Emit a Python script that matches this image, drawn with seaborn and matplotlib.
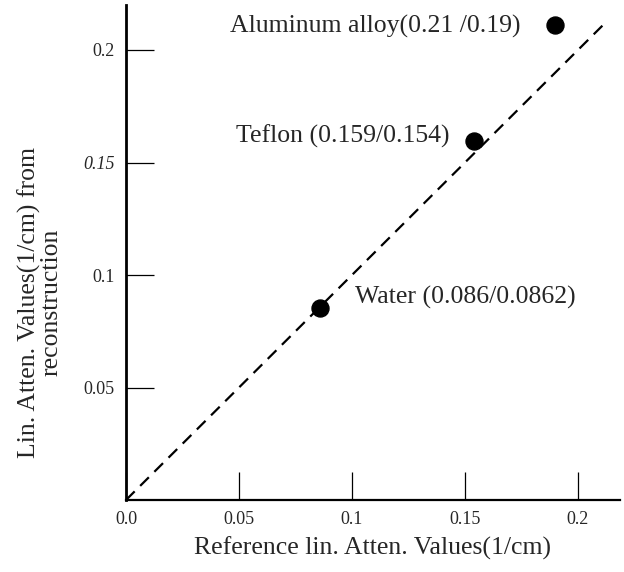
import numpy as np
import pandas as pd
import matplotlib
matplotlib.use("Agg")
import matplotlib.pyplot as plt
import seaborn as sns

# ---------- Data ----------
materials = ["Water", "Teflon", "Aluminum alloy"]
reference_vals = [0.0858, 0.154, 0.190]
recon_vals = [0.0853, 0.1596, 0.211]
point_labels = ["Water (0.086/0.0862)", "Teflon (0.159/0.154)", "Aluminum alloy(0.21 /0.19)"]
label_x = [0.1013, 0.0487, 0.046]
label_y = [0.0898, 0.1618, 0.2105]
ident_x = [0.0, 0.2115]
x_ticks = [0.0, 0.05, 0.1, 0.15, 0.2]
x_ticklabels = ["0.0", "0.05", "0.1", "0.15", "0.2"]
y_ticks = [0.05, 0.1, 0.15, 0.2]
y_ticklabels = ["0.05", "0.1", "0.15", "0.2"]

df = pd.DataFrame({"material": materials, "ref": reference_vals, "recon": recon_vals})
line_df = pd.DataFrame({"x": ident_x, "y": ident_x})

sns.set_style("white")
plt.rcParams["font.family"] = ["Liberation Serif", "DejaVu Serif"]

fig = plt.figure(figsize=(6.24, 5.72), dpi=100)
ax = fig.add_axes([126 / 624, 72 / 572, (620 - 126) / 624, (567 - 72) / 572])

sns.lineplot(data=line_df, x="x", y="y", ax=ax, color="black", linestyle=(0, (5.5, 3.5)),
             linewidth=1.6)
sns.scatterplot(data=df, x="ref", y="recon", ax=ax, color="black", s=150, edgecolor="black",
                zorder=3)

for lx, ly, txt in zip(label_x, label_y, point_labels):
    ax.text(lx, ly, txt, fontsize=18.5, va="center", ha="left")

ax.set_xlim(0, 0.2186)
ax.set_ylim(0, 0.22)
ax.set_xticks(x_ticks)
ax.set_xticklabels(x_ticklabels, fontsize=13)
ax.set_yticks(y_ticks)
ax.set_yticklabels(y_ticklabels, fontsize=13)
ax.get_yticklabels()[2].set_style("italic")
ax.tick_params(axis="both", direction="in", length=20, width=0.9, color="black", pad=8,
               bottom=True, left=True)

for side in ["top", "right"]:
    ax.spines[side].set_visible(False)
ax.spines["left"].set_linewidth(2.0)
ax.spines["bottom"].set_linewidth(1.6)
ax.spines["left"].set_color("black")
ax.spines["bottom"].set_color("black")

ax.set_xlabel("Reference lin. Atten. Values(1/cm)", fontsize=18.5, labelpad=6)
ax.set_ylabel("Lin. Atten. Values(1/cm) from\nreconstruction", fontsize=18.5,
              linespacing=1.0)
ax.yaxis.set_label_coords(-0.128, 0.40)

fig.savefig("out.png", dpi=100)
